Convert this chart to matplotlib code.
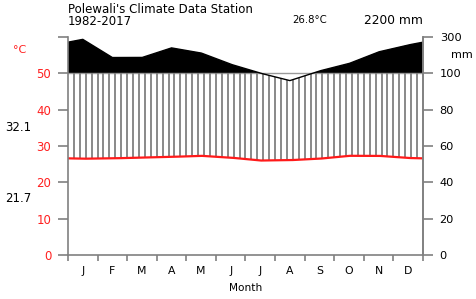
import numpy as np
import matplotlib
matplotlib.use("Agg")
import matplotlib.pyplot as plt

plt.rcParams['font.family'] = ['DejaVu Sans']

months = ['J', 'F', 'M', 'A', 'M', 'J', 'J', 'A', 'S', 'O', 'N', 'D']
temp = [26.5, 26.6, 26.8, 27.0, 27.3, 26.8, 26.0, 26.1, 26.5, 27.3, 27.3, 26.7]
prec = [287, 187, 187, 240, 212, 150, 101, 96, 113, 154, 218, 256]
left_ticks = [0, 10, 20, 30, 40, 50, 60]
left_labels = ['0', '10', '20', '30', '40', '50', '']
right_labels = ['0', '20', '40', '60', '80', '100', '300']
title = "Polewali's Climate Data Station"
period = "1982-2017"
mean_t = "26.8°C"
total_p = "2200 mm"
tmax_lab = "32.1"
tmin_lab = "21.7"

W, H = 477, 299
fig = plt.figure(figsize=(W / 100, H / 100), dpi=100)
ax = fig.add_axes([68 / W, 1 - 255 / H, (423 - 68) / W, (255 - 37) / H])


def ptrans(p):
    p = np.asarray(p, dtype=float)
    return np.where(p <= 100, p / 2.0, 50 + (p - 100) / 20.0)


xm = np.arange(12) + 0.5
xe = np.concatenate([[-0.5], xm, [12.5]])
te = np.concatenate([[temp[-1]], temp, [temp[0]]])
pe = np.concatenate([[ptrans(prec[-1])], ptrans(prec), [ptrans(prec[0])]])

xf = np.linspace(0, 12, 1201)
tf = np.interp(xf, xe, te)
pf = np.interp(xf, xe, pe)

# black area above 100 mm
ax.fill_between(xf, 50, pf, where=pf >= 50, color='black', lw=0, interpolate=True)
# line at 100 mm
ax.plot([0, 12], [50, 50], color='#9a9a9a', lw=1.0)

# hatching (humid period)
for k in range(1, 60):
    x = k * 0.2
    t = np.interp(x, xe, te)
    p = np.interp(x, xe, pe)
    top = min(p, 50)
    if top > t:
        ax.plot([x, x], [t, top], color='#808080', lw=1.3, solid_capstyle='butt')

ax.plot(xf, pf, color='black', lw=1.0)
ax.plot(xf, tf, color='#ff1a1a', lw=1.6)

ax.set_xlim(0, 12)
ax.set_ylim(0, 60)
ax.spines['top'].set_visible(False)
for s in ['left', 'right', 'bottom']:
    ax.spines[s].set_color('#808080')
    ax.spines[s].set_linewidth(1.2)

ax.set_yticks(left_ticks)
ax.set_yticklabels(left_labels)
ax.tick_params(axis='y', colors='#808080', labelcolor='#ff2020', length=7, width=1.2,
               pad=5, labelsize=8.5)
ax.set_xticks(np.arange(13))
ax.set_xticklabels([])
ax.set_xticks(xm, minor=True)
ax.set_xticklabels(months, minor=True)
ax.tick_params(axis='x', which='major', colors='#808080', length=4.5, width=1.2)
ax.tick_params(axis='x', which='minor', length=0, pad=8, labelsize=7.8, labelcolor='black')

ax2 = ax.twinx()
ax2.set_ylim(0, 60)
ax2.set_yticks(left_ticks)
ax2.set_yticklabels(right_labels)
ax2.tick_params(axis='y', colors='#808080', labelcolor='black', length=7, width=1.2,
                pad=5, labelsize=8.2)
for s in ['top', 'left', 'bottom']:
    ax2.spines[s].set_visible(False)
ax2.spines['right'].set_color('#808080')
ax2.spines['right'].set_linewidth(1.2)

ax.set_xlabel('Month', fontsize=7.6, labelpad=5)


def ftext(x, y, s, **kw):
    fig.text(x / W, 1 - y / H, s, **kw)


ftext(68, 13, title, fontsize=8.5, va='baseline', ha='left')
ftext(68, 25, period, fontsize=8.5, va='baseline', ha='left')
ftext(310, 20, mean_t, fontsize=7.3, va='center', ha='center')
ftext(423, 20, total_p, fontsize=8.8, va='center', ha='right')
ftext(20, 50, '°C', fontsize=8, va='center', ha='center', color='#ff2020')
ftext(462, 55, 'mm', fontsize=8, va='center', ha='center')
ftext(5, 128, tmax_lab, fontsize=8.5, va='center', ha='left')
ftext(5, 198, tmin_lab, fontsize=8.5, va='center', ha='left')

fig.savefig('out.png', dpi=100)
